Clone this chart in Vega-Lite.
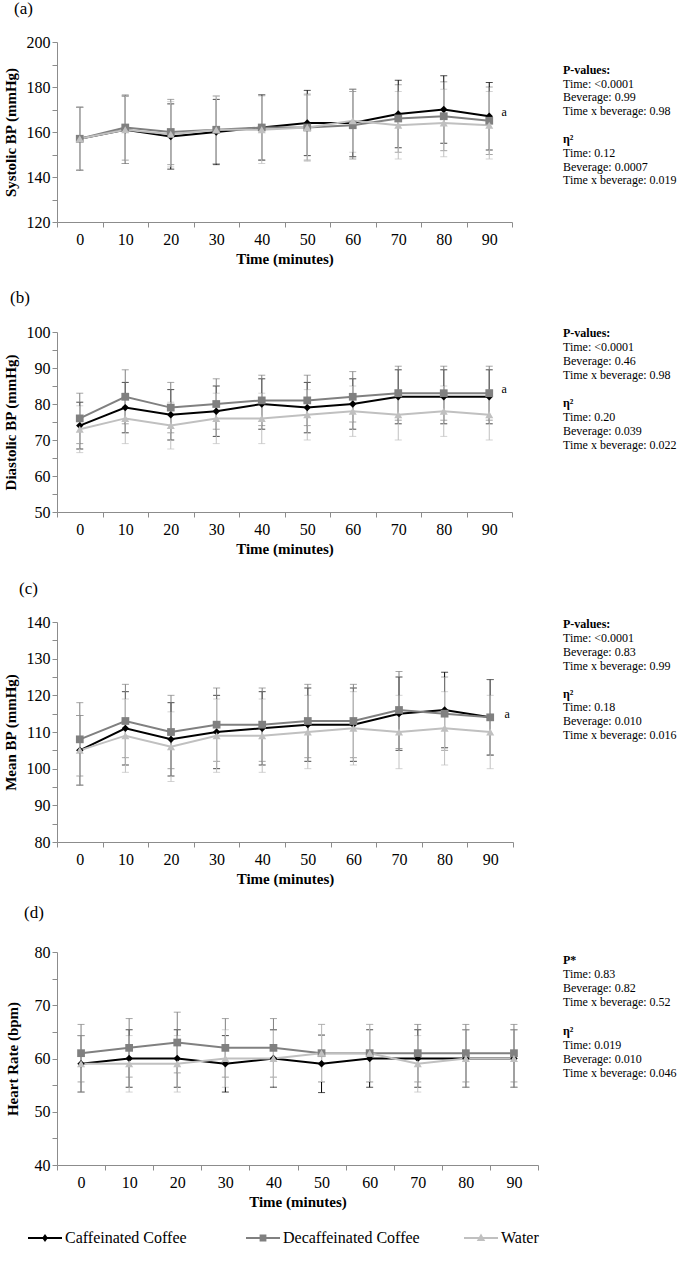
{
  "$schema": "https://vega.github.io/schema/vega-lite/v6.json",
  "background": "white",
  "padding": {"left": 3, "top": 0, "right": 0, "bottom": 0},
  "config": {
    "font": "Liberation Serif, Times New Roman, DejaVu Serif, serif",
    "view": {"stroke": null},
    "text": {"font": "Liberation Serif, Times New Roman, DejaVu Serif, serif"},
    "axis": {
      "grid": false,
      "domainColor": "#8c8c8c",
      "tickColor": "#8c8c8c",
      "tickSize": 5,
      "labelFont": "Liberation Serif, Times New Roman, DejaVu Serif, serif",
      "labelFontSize": 16,
      "labelColor": "black",
      "titleFont": "Liberation Serif, Times New Roman, DejaVu Serif, serif",
      "titleFontSize": 15,
      "titleFontWeight": "bold",
      "titleColor": "black"
    },
    "axisX": {"labelAngle": 0, "tickBand": "extent", "labelPadding": 4, "titlePadding": 4},
    "axisY": {"labelPadding": 2, "labelOverlap": false, "titlePadding": 8},
    "title": {"font": "Liberation Serif, Times New Roman, DejaVu Serif, serif", "fontSize": 17, "fontWeight": "normal", "anchor": "start", "frame": "group", "color": "black"},
    "legend": {"labelFont": "Liberation Serif, Times New Roman, DejaVu Serif, serif", "labelFontSize": 16, "labelColor": "black"}
  },
  "datasets": {
    "bp": [
      {"p": "a", "t": 0, "b": "Caffeinated Coffee", "m": 157, "sd": 14},
      {"p": "a", "t": 10, "b": "Caffeinated Coffee", "m": 161, "sd": 15},
      {"p": "a", "t": 20, "b": "Caffeinated Coffee", "m": 158, "sd": 14.5},
      {"p": "a", "t": 30, "b": "Caffeinated Coffee", "m": 160, "sd": 14.5},
      {"p": "a", "t": 40, "b": "Caffeinated Coffee", "m": 162, "sd": 14.5},
      {"p": "a", "t": 50, "b": "Caffeinated Coffee", "m": 164, "sd": 14.5},
      {"p": "a", "t": 60, "b": "Caffeinated Coffee", "m": 164, "sd": 15},
      {"p": "a", "t": 70, "b": "Caffeinated Coffee", "m": 168, "sd": 15},
      {"p": "a", "t": 80, "b": "Caffeinated Coffee", "m": 170, "sd": 15},
      {"p": "a", "t": 90, "b": "Caffeinated Coffee", "m": 167, "sd": 15},
      {"p": "a", "t": 0, "b": "Decaffeinated Coffee", "m": 157, "sd": 14},
      {"p": "a", "t": 10, "b": "Decaffeinated Coffee", "m": 162, "sd": 14.5},
      {"p": "a", "t": 20, "b": "Decaffeinated Coffee", "m": 160, "sd": 14.5},
      {"p": "a", "t": 30, "b": "Decaffeinated Coffee", "m": 161, "sd": 15},
      {"p": "a", "t": 40, "b": "Decaffeinated Coffee", "m": 162, "sd": 14.5},
      {"p": "a", "t": 50, "b": "Decaffeinated Coffee", "m": 162, "sd": 14.5},
      {"p": "a", "t": 60, "b": "Decaffeinated Coffee", "m": 163, "sd": 15},
      {"p": "a", "t": 70, "b": "Decaffeinated Coffee", "m": 166, "sd": 15},
      {"p": "a", "t": 80, "b": "Decaffeinated Coffee", "m": 167, "sd": 15.3},
      {"p": "a", "t": 90, "b": "Decaffeinated Coffee", "m": 165, "sd": 15},
      {"p": "a", "t": 0, "b": "Water", "m": 157, "sd": 14},
      {"p": "a", "t": 10, "b": "Water", "m": 161, "sd": 15},
      {"p": "a", "t": 20, "b": "Water", "m": 159, "sd": 14.5},
      {"p": "a", "t": 30, "b": "Water", "m": 161, "sd": 15},
      {"p": "a", "t": 40, "b": "Water", "m": 161, "sd": 15},
      {"p": "a", "t": 50, "b": "Water", "m": 162, "sd": 15},
      {"p": "a", "t": 60, "b": "Water", "m": 165, "sd": 14},
      {"p": "a", "t": 70, "b": "Water", "m": 163, "sd": 15},
      {"p": "a", "t": 80, "b": "Water", "m": 164, "sd": 15},
      {"p": "a", "t": 90, "b": "Water", "m": 163, "sd": 15},

      {"p": "b", "t": 0, "b": "Caffeinated Coffee", "m": 74, "sd": 6.5},
      {"p": "b", "t": 10, "b": "Caffeinated Coffee", "m": 79, "sd": 7},
      {"p": "b", "t": 20, "b": "Caffeinated Coffee", "m": 77, "sd": 7},
      {"p": "b", "t": 30, "b": "Caffeinated Coffee", "m": 78, "sd": 7},
      {"p": "b", "t": 40, "b": "Caffeinated Coffee", "m": 80, "sd": 7},
      {"p": "b", "t": 50, "b": "Caffeinated Coffee", "m": 79, "sd": 7},
      {"p": "b", "t": 60, "b": "Caffeinated Coffee", "m": 80, "sd": 7},
      {"p": "b", "t": 70, "b": "Caffeinated Coffee", "m": 82, "sd": 7.5},
      {"p": "b", "t": 80, "b": "Caffeinated Coffee", "m": 82, "sd": 7.5},
      {"p": "b", "t": 90, "b": "Caffeinated Coffee", "m": 82, "sd": 7.5},
      {"p": "b", "t": 0, "b": "Decaffeinated Coffee", "m": 76, "sd": 7},
      {"p": "b", "t": 10, "b": "Decaffeinated Coffee", "m": 82, "sd": 7.5},
      {"p": "b", "t": 20, "b": "Decaffeinated Coffee", "m": 79, "sd": 7},
      {"p": "b", "t": 30, "b": "Decaffeinated Coffee", "m": 80, "sd": 7},
      {"p": "b", "t": 40, "b": "Decaffeinated Coffee", "m": 81, "sd": 7},
      {"p": "b", "t": 50, "b": "Decaffeinated Coffee", "m": 81, "sd": 7},
      {"p": "b", "t": 60, "b": "Decaffeinated Coffee", "m": 82, "sd": 7},
      {"p": "b", "t": 70, "b": "Decaffeinated Coffee", "m": 83, "sd": 7.5},
      {"p": "b", "t": 80, "b": "Decaffeinated Coffee", "m": 83, "sd": 7.5},
      {"p": "b", "t": 90, "b": "Decaffeinated Coffee", "m": 83, "sd": 7.5},
      {"p": "b", "t": 0, "b": "Water", "m": 73, "sd": 6.5},
      {"p": "b", "t": 10, "b": "Water", "m": 76, "sd": 7},
      {"p": "b", "t": 20, "b": "Water", "m": 74, "sd": 6.5},
      {"p": "b", "t": 30, "b": "Water", "m": 76, "sd": 7},
      {"p": "b", "t": 40, "b": "Water", "m": 76, "sd": 7},
      {"p": "b", "t": 50, "b": "Water", "m": 77, "sd": 7},
      {"p": "b", "t": 60, "b": "Water", "m": 78, "sd": 7},
      {"p": "b", "t": 70, "b": "Water", "m": 77, "sd": 7},
      {"p": "b", "t": 80, "b": "Water", "m": 78, "sd": 7},
      {"p": "b", "t": 90, "b": "Water", "m": 77, "sd": 7},

      {"p": "c", "t": 0, "b": "Caffeinated Coffee", "m": 105, "sd": 9.5},
      {"p": "c", "t": 10, "b": "Caffeinated Coffee", "m": 111, "sd": 10},
      {"p": "c", "t": 20, "b": "Caffeinated Coffee", "m": 108, "sd": 10},
      {"p": "c", "t": 30, "b": "Caffeinated Coffee", "m": 110, "sd": 10},
      {"p": "c", "t": 40, "b": "Caffeinated Coffee", "m": 111, "sd": 10},
      {"p": "c", "t": 50, "b": "Caffeinated Coffee", "m": 112, "sd": 10},
      {"p": "c", "t": 60, "b": "Caffeinated Coffee", "m": 112, "sd": 10},
      {"p": "c", "t": 70, "b": "Caffeinated Coffee", "m": 115, "sd": 10},
      {"p": "c", "t": 80, "b": "Caffeinated Coffee", "m": 116, "sd": 10.3},
      {"p": "c", "t": 90, "b": "Caffeinated Coffee", "m": 114, "sd": 10.3},
      {"p": "c", "t": 0, "b": "Decaffeinated Coffee", "m": 108, "sd": 10},
      {"p": "c", "t": 10, "b": "Decaffeinated Coffee", "m": 113, "sd": 10},
      {"p": "c", "t": 20, "b": "Decaffeinated Coffee", "m": 110, "sd": 10},
      {"p": "c", "t": 30, "b": "Decaffeinated Coffee", "m": 112, "sd": 10},
      {"p": "c", "t": 40, "b": "Decaffeinated Coffee", "m": 112, "sd": 10},
      {"p": "c", "t": 50, "b": "Decaffeinated Coffee", "m": 113, "sd": 10},
      {"p": "c", "t": 60, "b": "Decaffeinated Coffee", "m": 113, "sd": 10},
      {"p": "c", "t": 70, "b": "Decaffeinated Coffee", "m": 116, "sd": 10.5},
      {"p": "c", "t": 80, "b": "Decaffeinated Coffee", "m": 115, "sd": 10},
      {"p": "c", "t": 90, "b": "Decaffeinated Coffee", "m": 114, "sd": 10.3},
      {"p": "c", "t": 0, "b": "Water", "m": 105, "sd": 9.5},
      {"p": "c", "t": 10, "b": "Water", "m": 109, "sd": 10},
      {"p": "c", "t": 20, "b": "Water", "m": 106, "sd": 9.5},
      {"p": "c", "t": 30, "b": "Water", "m": 109, "sd": 10},
      {"p": "c", "t": 40, "b": "Water", "m": 109, "sd": 10},
      {"p": "c", "t": 50, "b": "Water", "m": 110, "sd": 10},
      {"p": "c", "t": 60, "b": "Water", "m": 111, "sd": 10},
      {"p": "c", "t": 70, "b": "Water", "m": 110, "sd": 10},
      {"p": "c", "t": 80, "b": "Water", "m": 111, "sd": 10},
      {"p": "c", "t": 90, "b": "Water", "m": 110, "sd": 10},

      {"p": "d", "t": 0, "b": "Caffeinated Coffee", "m": 59, "sd": 5.3},
      {"p": "d", "t": 10, "b": "Caffeinated Coffee", "m": 60, "sd": 5.4},
      {"p": "d", "t": 20, "b": "Caffeinated Coffee", "m": 60, "sd": 5.4},
      {"p": "d", "t": 30, "b": "Caffeinated Coffee", "m": 59, "sd": 5.3},
      {"p": "d", "t": 40, "b": "Caffeinated Coffee", "m": 60, "sd": 5.4},
      {"p": "d", "t": 50, "b": "Caffeinated Coffee", "m": 59, "sd": 5.4},
      {"p": "d", "t": 60, "b": "Caffeinated Coffee", "m": 60, "sd": 5.4},
      {"p": "d", "t": 70, "b": "Caffeinated Coffee", "m": 60, "sd": 5.4},
      {"p": "d", "t": 80, "b": "Caffeinated Coffee", "m": 60, "sd": 5.4},
      {"p": "d", "t": 90, "b": "Caffeinated Coffee", "m": 60, "sd": 5.4},
      {"p": "d", "t": 0, "b": "Decaffeinated Coffee", "m": 61, "sd": 5.4},
      {"p": "d", "t": 10, "b": "Decaffeinated Coffee", "m": 62, "sd": 5.5},
      {"p": "d", "t": 20, "b": "Decaffeinated Coffee", "m": 63, "sd": 5.7},
      {"p": "d", "t": 30, "b": "Decaffeinated Coffee", "m": 62, "sd": 5.5},
      {"p": "d", "t": 40, "b": "Decaffeinated Coffee", "m": 62, "sd": 5.5},
      {"p": "d", "t": 50, "b": "Decaffeinated Coffee", "m": 61, "sd": 5.4},
      {"p": "d", "t": 60, "b": "Decaffeinated Coffee", "m": 61, "sd": 5.4},
      {"p": "d", "t": 70, "b": "Decaffeinated Coffee", "m": 61, "sd": 5.4},
      {"p": "d", "t": 80, "b": "Decaffeinated Coffee", "m": 61, "sd": 5.4},
      {"p": "d", "t": 90, "b": "Decaffeinated Coffee", "m": 61, "sd": 5.4},
      {"p": "d", "t": 0, "b": "Water", "m": 59, "sd": 5.3},
      {"p": "d", "t": 10, "b": "Water", "m": 59, "sd": 5.3},
      {"p": "d", "t": 20, "b": "Water", "m": 59, "sd": 5.3},
      {"p": "d", "t": 30, "b": "Water", "m": 60, "sd": 5.4},
      {"p": "d", "t": 40, "b": "Water", "m": 60, "sd": 5.3},
      {"p": "d", "t": 50, "b": "Water", "m": 61, "sd": 5.4},
      {"p": "d", "t": 60, "b": "Water", "m": 61, "sd": 5.4},
      {"p": "d", "t": 70, "b": "Water", "m": 59, "sd": 5.3},
      {"p": "d", "t": 80, "b": "Water", "m": 60, "sd": 5.4},
      {"p": "d", "t": 90, "b": "Water", "m": 60, "sd": 5.4}
    ],
    "tags": [
      {"p": "a", "t": 90, "m": 168.8, "txt": "a"},
      {"p": "b", "t": 90, "m": 84.2, "txt": "a"},
      {"p": "c", "t": 90, "m": 114.8, "txt": "a"}
    ],
    "notes": [
      {"p": "a", "ln": 1, "h": true, "txt": "P-values:"},
      {"p": "a", "ln": 2, "h": false, "txt": "Time: <0.0001"},
      {"p": "a", "ln": 3, "h": false, "txt": "Beverage: 0.99"},
      {"p": "a", "ln": 4, "h": false, "txt": "Time x beverage: 0.98"},
      {"p": "a", "ln": 6, "h": true, "txt": "η²"},
      {"p": "a", "ln": 7, "h": false, "txt": "Time: 0.12"},
      {"p": "a", "ln": 8, "h": false, "txt": "Beverage: 0.0007"},
      {"p": "a", "ln": 9, "h": false, "txt": "Time x beverage: 0.019"},
      {"p": "b", "ln": 1, "h": true, "txt": "P-values:"},
      {"p": "b", "ln": 2, "h": false, "txt": "Time: <0.0001"},
      {"p": "b", "ln": 3, "h": false, "txt": "Beverage: 0.46"},
      {"p": "b", "ln": 4, "h": false, "txt": "Time x beverage: 0.98"},
      {"p": "b", "ln": 6, "h": true, "txt": "η²"},
      {"p": "b", "ln": 7, "h": false, "txt": "Time: 0.20"},
      {"p": "b", "ln": 8, "h": false, "txt": "Beverage: 0.039"},
      {"p": "b", "ln": 9, "h": false, "txt": "Time x beverage: 0.022"},
      {"p": "c", "ln": 1, "h": true, "txt": "P-values:"},
      {"p": "c", "ln": 2, "h": false, "txt": "Time: <0.0001"},
      {"p": "c", "ln": 3, "h": false, "txt": "Beverage: 0.83"},
      {"p": "c", "ln": 4, "h": false, "txt": "Time x beverage: 0.99"},
      {"p": "c", "ln": 6, "h": true, "txt": "η²"},
      {"p": "c", "ln": 7, "h": false, "txt": "Time: 0.18"},
      {"p": "c", "ln": 8, "h": false, "txt": "Beverage: 0.010"},
      {"p": "c", "ln": 9, "h": false, "txt": "Time x beverage: 0.016"},
      {"p": "d", "ln": 1, "h": true, "txt": "P*"},
      {"p": "d", "ln": 2, "h": false, "txt": "Time: 0.83"},
      {"p": "d", "ln": 3, "h": false, "txt": "Beverage: 0.82"},
      {"p": "d", "ln": 4, "h": false, "txt": "Time x beverage: 0.52"},
      {"p": "d", "ln": 6, "h": true, "txt": "η²"},
      {"p": "d", "ln": 7, "h": false, "txt": "Time: 0.019"},
      {"p": "d", "ln": 8, "h": false, "txt": "Beverage: 0.010"},
      {"p": "d", "ln": 9, "h": false, "txt": "Time x beverage: 0.046"}
    ]
  },
  "bounds": "flush",
  "align": "each",
  "columns": 2,
  "spacing": {"row": 110, "column": 25},
  "resolve": {"scale": {"x": "independent", "y": "independent", "color": "shared"}},
  "concat": [
    {
      "width": 455, "height": 180,
      "title": {"text": "(a)", "dx": -43, "offset": 16},
      "data": {"name": "bp"},
      "transform": [{"filter": "datum.p == 'a'"}],
      "encoding": {
        "x": {"field": "t", "type": "ordinal", "scale": {"type": "band", "paddingInner": 0, "paddingOuter": 0}, "axis": {"title": "Time (minutes)"}},
        "y": {"field": "m", "type": "quantitative", "scale": {"domain": [120, 200], "nice": false, "zero": false}, "axis": {"title": "Systolic BP (mmHg)", "labelOverlap": false, "values": [120, 130, 140, 150, 160, 170, 180, 190, 200], "labelExpr": "datum.value % 20 == 0 ? datum.label : ''"}},
        "color": {"field": "b", "type": "nominal", "scale": {"domain": ["Caffeinated Coffee", "Decaffeinated Coffee", "Water"], "range": ["#000000", "#808080", "#c0c0c0"]},
          "legend": {"title": null, "orient": "none", "legendX": -29, "legendY": 1179, "direction": "horizontal", "symbolSize": 1156, "labelOffset": 3, "gridAlign": "all", "columnPadding": 44, "padding": 0,
            "encode": {"symbols": {"update": {
              "shape": {"signal": "datum.value == 'Water' ? 'M-1,-0.06H1V0.06H-1ZM0,-0.26L0.25,0.18H-0.25Z' : datum.value == 'Decaffeinated Coffee' ? 'M-1,-0.06H1V0.06H-1ZM-0.2,-0.2H0.2V0.2H-0.2Z' : 'M-1,-0.06H1V0.06H-1ZM0,-0.24L0.17,0L0,0.24L-0.17,0Z'"},
              "fill": {"scale": "color", "field": "value"},
              "strokeWidth": {"value": 0},
              "opacity": {"value": 1}
            }}}}}
      },
      "layer": [
        {"mark": {"type": "errorbar", "ticks": {"size": 7, "thickness": 1}, "rule": {"strokeWidth": 1}}, "encoding": {"yError": {"field": "sd"}}},
        {"mark": {"type": "line", "strokeWidth": 2}},
        {"transform": [{"filter": "datum.b == 'Caffeinated Coffee'"}], "mark": {"type": "point", "shape": "diamond", "filled": true, "opacity": 1, "size": 55}},
        {"transform": [{"filter": "datum.b == 'Decaffeinated Coffee'"}], "mark": {"type": "point", "shape": "square", "filled": true, "opacity": 1, "size": 60}},
        {"transform": [{"filter": "datum.b == 'Water'"}], "mark": {"type": "point", "shape": "triangle-up", "filled": true, "opacity": 1, "size": 65}},
        {"data": {"name": "tags"}, "transform": [{"filter": "datum.p == 'a'"}], "mark": {"type": "text", "dx": 15, "fontSize": 12, "align": "center", "baseline": "middle"}, "encoding": {"text": {"field": "txt"}, "color": {"value": "black"}}}
      ]
    },
    {
      "width": 110, "height": 180,
      "data": {"name": "notes"},
      "transform": [{"filter": "datum.p == 'a'"}],
      "encoding": {
        "x": {"datum": 0, "type": "quantitative", "scale": {"domain": [0, 1]}, "axis": null},
        "y": {"field": "ln", "type": "quantitative", "scale": {"domain": [-1, 12], "reverse": true}, "axis": null},
        "text": {"field": "txt"}
      },
      "layer": [
        {"transform": [{"filter": "datum.h"}], "mark": {"type": "text", "align": "left", "baseline": "middle", "fontSize": 12, "fontWeight": "bold"}},
        {"transform": [{"filter": "!datum.h"}], "mark": {"type": "text", "align": "left", "baseline": "middle", "fontSize": 12}}
      ]
    },
    {
      "width": 455, "height": 180,
      "title": {"text": "(b)", "dx": -47, "offset": 17},
      "data": {"name": "bp"},
      "transform": [{"filter": "datum.p == 'b'"}],
      "encoding": {
        "x": {"field": "t", "type": "ordinal", "scale": {"type": "band", "paddingInner": 0, "paddingOuter": 0}, "axis": {"title": "Time (minutes)"}},
        "y": {"field": "m", "type": "quantitative", "scale": {"domain": [50, 100], "nice": false, "zero": false}, "axis": {"title": "Diastolic BP (mmHg)", "labelOverlap": false, "values": [50, 55, 60, 65, 70, 75, 80, 85, 90, 95, 100], "labelExpr": "datum.value % 10 == 0 ? datum.label : ''"}},
        "color": {"field": "b", "type": "nominal", "scale": {"domain": ["Caffeinated Coffee", "Decaffeinated Coffee", "Water"], "range": ["#000000", "#808080", "#c0c0c0"]}}
      },
      "layer": [
        {"mark": {"type": "errorbar", "ticks": {"size": 7, "thickness": 1}, "rule": {"strokeWidth": 1}}, "encoding": {"yError": {"field": "sd"}}},
        {"mark": {"type": "line", "strokeWidth": 2}},
        {"transform": [{"filter": "datum.b == 'Caffeinated Coffee'"}], "mark": {"type": "point", "shape": "diamond", "filled": true, "opacity": 1, "size": 55}},
        {"transform": [{"filter": "datum.b == 'Decaffeinated Coffee'"}], "mark": {"type": "point", "shape": "square", "filled": true, "opacity": 1, "size": 60}},
        {"transform": [{"filter": "datum.b == 'Water'"}], "mark": {"type": "point", "shape": "triangle-up", "filled": true, "opacity": 1, "size": 65}},
        {"data": {"name": "tags"}, "transform": [{"filter": "datum.p == 'b'"}], "mark": {"type": "text", "dx": 15, "fontSize": 12, "align": "center", "baseline": "middle"}, "encoding": {"text": {"field": "txt"}, "color": {"value": "black"}}}
      ]
    },
    {
      "width": 110, "height": 180,
      "data": {"name": "notes"},
      "transform": [{"filter": "datum.p == 'b'"}],
      "encoding": {
        "x": {"datum": 0, "type": "quantitative", "scale": {"domain": [0, 1]}, "axis": null},
        "y": {"field": "ln", "type": "quantitative", "scale": {"domain": [0.93, 13.79], "reverse": true}, "axis": null},
        "text": {"field": "txt"}
      },
      "layer": [
        {"transform": [{"filter": "datum.h"}], "mark": {"type": "text", "align": "left", "baseline": "middle", "fontSize": 12, "fontWeight": "bold"}},
        {"transform": [{"filter": "!datum.h"}], "mark": {"type": "text", "align": "left", "baseline": "middle", "fontSize": 12}}
      ]
    },
    {
      "width": 456, "height": 220,
      "title": {"text": "(c)", "dx": -38, "offset": 16},
      "data": {"name": "bp"},
      "transform": [{"filter": "datum.p == 'c'"}],
      "encoding": {
        "x": {"field": "t", "type": "ordinal", "scale": {"type": "band", "paddingInner": 0, "paddingOuter": 0}, "axis": {"title": "Time (minutes)"}},
        "y": {"field": "m", "type": "quantitative", "scale": {"domain": [80, 140], "nice": false, "zero": false}, "axis": {"title": "Mean BP (mmHg)", "labelOverlap": false, "values": [80, 85, 90, 95, 100, 105, 110, 115, 120, 125, 130, 135, 140], "labelExpr": "datum.value % 10 == 0 ? datum.label : ''"}},
        "color": {"field": "b", "type": "nominal", "scale": {"domain": ["Caffeinated Coffee", "Decaffeinated Coffee", "Water"], "range": ["#000000", "#808080", "#c0c0c0"]}}
      },
      "layer": [
        {"mark": {"type": "errorbar", "ticks": {"size": 7, "thickness": 1}, "rule": {"strokeWidth": 1}}, "encoding": {"yError": {"field": "sd"}}},
        {"mark": {"type": "line", "strokeWidth": 2}},
        {"transform": [{"filter": "datum.b == 'Caffeinated Coffee'"}], "mark": {"type": "point", "shape": "diamond", "filled": true, "opacity": 1, "size": 55}},
        {"transform": [{"filter": "datum.b == 'Decaffeinated Coffee'"}], "mark": {"type": "point", "shape": "square", "filled": true, "opacity": 1, "size": 60}},
        {"transform": [{"filter": "datum.b == 'Water'"}], "mark": {"type": "point", "shape": "triangle-up", "filled": true, "opacity": 1, "size": 65}},
        {"data": {"name": "tags"}, "transform": [{"filter": "datum.p == 'c'"}], "mark": {"type": "text", "dx": 17, "fontSize": 12, "align": "center", "baseline": "middle"}, "encoding": {"text": {"field": "txt"}, "color": {"value": "black"}}}
      ]
    },
    {
      "width": 110, "height": 220,
      "data": {"name": "notes"},
      "transform": [{"filter": "datum.p == 'c'"}],
      "encoding": {
        "x": {"datum": 0, "type": "quantitative", "scale": {"domain": [0, 1]}, "axis": null},
        "y": {"field": "ln", "type": "quantitative", "scale": {"domain": [0.856, 16.68], "reverse": true}, "axis": null},
        "text": {"field": "txt"}
      },
      "layer": [
        {"transform": [{"filter": "datum.h"}], "mark": {"type": "text", "align": "left", "baseline": "middle", "fontSize": 12, "fontWeight": "bold"}},
        {"transform": [{"filter": "!datum.h"}], "mark": {"type": "text", "align": "left", "baseline": "middle", "fontSize": 12}}
      ]
    },
    {
      "width": 481, "height": 213,
      "title": {"text": "(d)", "dx": -33, "offset": 22},
      "data": {"name": "bp"},
      "transform": [{"filter": "datum.p == 'd'"}],
      "encoding": {
        "x": {"field": "t", "type": "ordinal", "scale": {"type": "band", "paddingInner": 0, "paddingOuter": 0}, "axis": {"title": "Time (minutes)"}},
        "y": {"field": "m", "type": "quantitative", "scale": {"domain": [40, 80], "nice": false, "zero": false}, "axis": {"title": "Heart Rate (bpm)", "titlePadding": 14, "labelOverlap": false, "values": [40, 45, 50, 55, 60, 65, 70, 75, 80], "labelExpr": "datum.value % 10 == 0 ? datum.label : ''"}},
        "color": {"field": "b", "type": "nominal", "scale": {"domain": ["Caffeinated Coffee", "Decaffeinated Coffee", "Water"], "range": ["#000000", "#808080", "#c0c0c0"]}}
      },
      "layer": [
        {"mark": {"type": "errorbar", "ticks": {"size": 7, "thickness": 1}, "rule": {"strokeWidth": 1}}, "encoding": {"yError": {"field": "sd"}}},
        {"mark": {"type": "line", "strokeWidth": 2}},
        {"transform": [{"filter": "datum.b == 'Caffeinated Coffee'"}], "mark": {"type": "point", "shape": "diamond", "filled": true, "opacity": 1, "size": 55}},
        {"transform": [{"filter": "datum.b == 'Decaffeinated Coffee'"}], "mark": {"type": "point", "shape": "square", "filled": true, "opacity": 1, "size": 60}},
        {"transform": [{"filter": "datum.b == 'Water'"}], "mark": {"type": "point", "shape": "triangle-up", "filled": true, "opacity": 1, "size": 65}}
      ]
    },
    {
      "width": 110, "height": 213,
      "data": {"name": "notes"},
      "transform": [{"filter": "datum.p == 'd'"}],
      "encoding": {
        "x": {"datum": 0, "type": "quantitative", "scale": {"domain": [0, 1]}, "axis": null},
        "y": {"field": "ln", "type": "quantitative", "scale": {"domain": [0.433, 15.53], "reverse": true}, "axis": null},
        "text": {"field": "txt"}
      },
      "layer": [
        {"transform": [{"filter": "datum.h"}], "mark": {"type": "text", "align": "left", "baseline": "middle", "fontSize": 12, "fontWeight": "bold"}},
        {"transform": [{"filter": "!datum.h"}], "mark": {"type": "text", "align": "left", "baseline": "middle", "fontSize": 12}}
      ]
    }
  ]
}
